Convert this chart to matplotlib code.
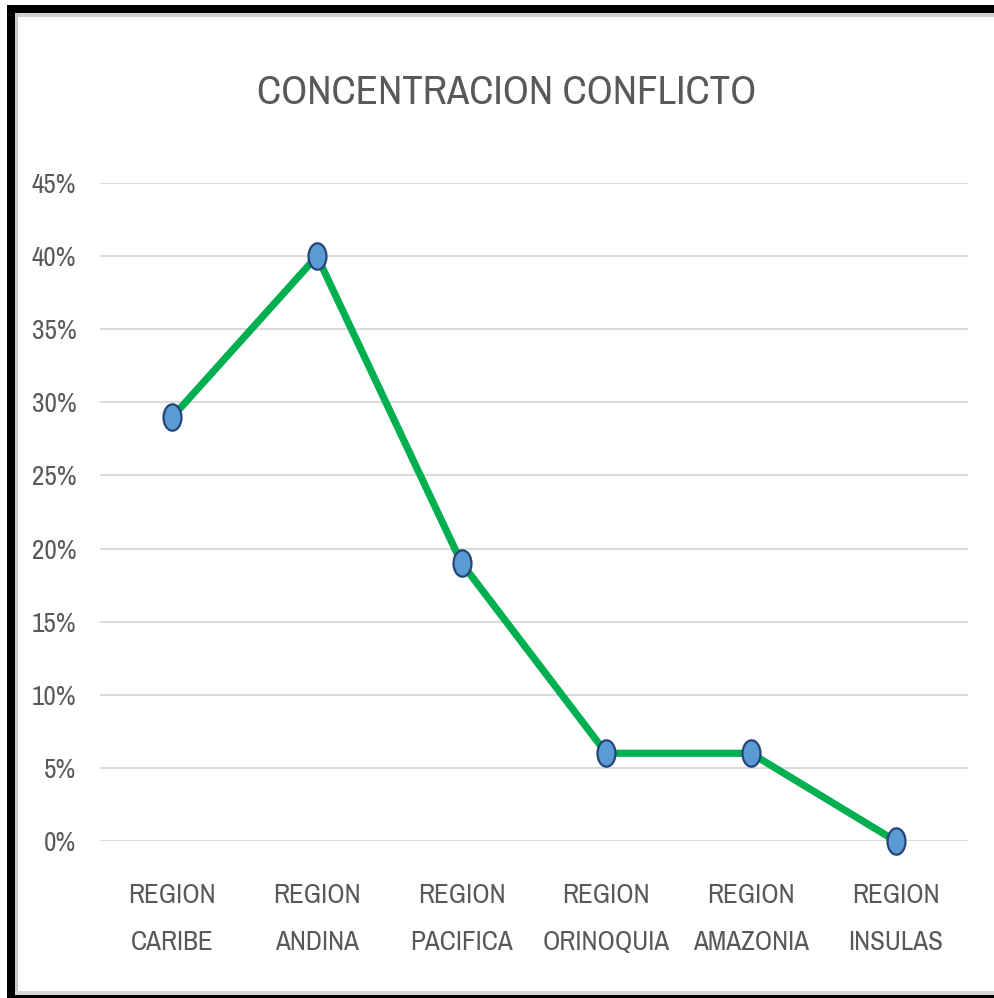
import numpy as np
import matplotlib
matplotlib.use("Agg")
import matplotlib.pyplot as plt
import matplotlib.font_manager as fm
from matplotlib.path import Path
from matplotlib.transforms import Affine2D
from matplotlib.ticker import FuncFormatter
from matplotlib.patches import Rectangle

# Chart data
regions = [
    "REGION\nCARIBE",
    "REGION\nANDINA",
    "REGION\nPACIFICA",
    "REGION\nORINOQUIA",
    "REGION\nAMAZONIA",
    "REGION\nINSULAS",
]
concentration = [0.29, 0.40, 0.19, 0.06, 0.06, 0.00]
y_ticks = [0.00, 0.05, 0.10, 0.15, 0.20, 0.25, 0.30, 0.35, 0.40, 0.45]
title = "CONCENTRACION CONFLICTO"


# Pick a narrow face if one is installed (the original text is condensed)
def pick_font():
    fonts = fm.fontManager.ttflist
    for f in fonts:
        if "Narrow" in f.name or "Condensed" in f.name:
            return f.name, "normal"
    for f in fonts:
        if f.stretch in ("condensed", "semi-condensed", "extra-condensed"):
            return f.name, f.stretch
    return "Liberation Sans", "normal"


font_name, font_stretch = pick_font()
plt.rcParams["font.family"] = [font_name, "DejaVu Sans"]
plt.rcParams["font.stretch"] = font_stretch

W, H = 994, 998
fig = plt.figure(figsize=(W / 100, H / 100), dpi=100)
fig.patch.set_facecolor("white")
renderer = fig.canvas.get_renderer()


# Font size that makes a string about target_px wide
def fit_size(text, target_px):
    t = fig.text(0, 0, text, fontsize=10)
    w = t.get_window_extent(renderer).width
    t.remove()
    return 10 * target_px / w


title_size = fit_size(title, 453) * 1.1
tick_size = fit_size("REGION", 78) * 1.12
line_px = tick_size * 100 / 72

ax = fig.add_axes([100 / W, 1 - 841 / H, 868 / W, (841 - 183) / H])

# Squashed ellipse marker like the original
ellipse = Path.unit_circle().transformed(Affine2D().scale(0.68, 1.0))

x = np.arange(len(regions))
ax.plot(
    x,
    concentration,
    color="#00B050",
    linewidth=5.2,
    marker=ellipse,
    markersize=19,
    markerfacecolor="#5B9BD5",
    markeredgecolor="#264478",
    markeredgewidth=1.6,
    zorder=3,
    clip_on=False,
)

ax.set_xlim(-0.5, len(regions) - 0.5)
ax.set_ylim(0, 0.45)
ax.set_yticks(y_ticks)
ax.yaxis.set_major_formatter(FuncFormatter(lambda v, p: f"{v * 100:.0f}%"))
ax.set_xticks(x)
# baselines about 49 px apart in the original
ax.set_xticklabels(regions, linespacing=52 / (line_px * 0.9))

ax.grid(axis="y", color="#D9D9D9", linewidth=1.4)
ax.set_axisbelow(True)
for s in ax.spines.values():
    s.set_visible(False)
ax.tick_params(axis="both", length=0, colors="#595959", labelsize=tick_size)
ax.tick_params(axis="y", pad=17)
ax.tick_params(axis="x", pad=30)

fig.text(507 / W, 1 - 92 / H, title,
         ha="center", va="center", fontsize=title_size, color="#595959")


# Black frame with light shadow, as in the screenshot
def px_rect(x0, y0, x1, y1, color):
    fig.patches.append(Rectangle((x0 / W, 1 - y1 / H), (x1 - x0) / W,
                                 (y1 - y0) / H, transform=fig.transFigure,
                                 facecolor=color, edgecolor="none"))


px_rect(15, 13, W, 17, "#D0D0D0")
px_rect(15, 13, 18, 992, "#C8C8C8")
px_rect(15, 991, W, 995, "#D8D8D8")
px_rect(7, 5, W, 13, "black")
px_rect(7, 5, 15, H, "black")
px_rect(7, 995, W, H, "black")

fig.savefig("out.png", dpi=100, facecolor="white")
